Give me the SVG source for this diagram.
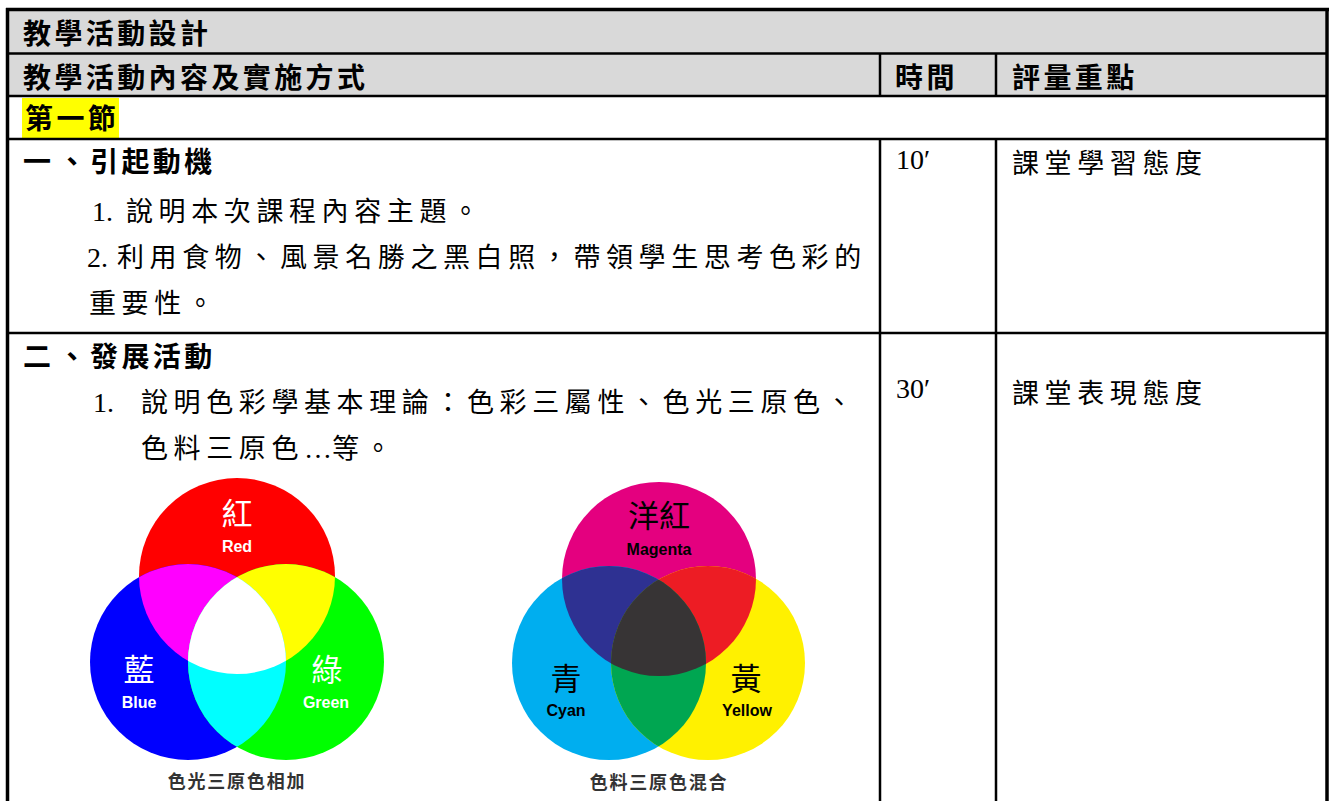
<svg xmlns="http://www.w3.org/2000/svg" width="1336" height="801" viewBox="0 0 1336 801">
<style>
.hd{font-family:"Noto Sans CJK TC","Noto Sans CJK SC",sans-serif;font-weight:700;font-size:28px;letter-spacing:3.4px;fill:#000}
.bd{font-family:"Noto Sans CJK TC","Noto Sans CJK SC",sans-serif;font-weight:400;font-size:27px;letter-spacing:5.6px;fill:#000}
.num{font-family:"Liberation Serif","Times New Roman",serif;font-size:28px;fill:#000}
.ln{stroke:#000;stroke-width:2.5;fill:none}
.ob{stroke:#000;stroke-width:3.5;fill:none}
.vc{font-family:"Noto Sans CJK TC","Noto Sans CJK SC",sans-serif;font-size:31px;text-anchor:middle}
.ve{font-family:"Liberation Sans",Arial,sans-serif;font-weight:700;font-size:16px;text-anchor:middle}
.cap{font-family:"Noto Sans CJK TC","Noto Sans CJK SC",sans-serif;font-weight:700;font-size:18px;fill:#333;text-anchor:middle;letter-spacing:1.8px}
</style>
<defs>
<circle id="cR" cx="237" cy="576" r="98"/>
<circle id="cB" cx="188" cy="662" r="98"/>
<circle id="cG" cx="286" cy="662" r="98"/>
<circle id="cM" cx="659" cy="579" r="97"/>
<circle id="cC" cx="609" cy="663" r="97"/>
<circle id="cY" cx="708" cy="663" r="97"/>
<clipPath id="kR"><use href="#cR"/></clipPath>
<clipPath id="kB"><use href="#cB"/></clipPath>
<clipPath id="kM"><use href="#cM"/></clipPath>
<clipPath id="kC"><use href="#cC"/></clipPath>
</defs>

<g id="table">
<rect x="9" y="11" width="1316" height="85" fill="#d9d9d9"/>
<rect x="22" y="98" width="97" height="40" fill="#ffff00"/>
<line class="ob" x1="6" y1="9.5" x2="1329" y2="9.5"/>
<line class="ob" x1="7.5" y1="8" x2="7.5" y2="801"/>
<line class="ob" x1="1327" y1="8" x2="1327" y2="801"/>
<line class="ln" x1="7" y1="53.5" x2="1327" y2="53.5"/>
<line class="ln" x1="7" y1="96" x2="1327" y2="96"/>
<line class="ln" x1="7" y1="139" x2="1327" y2="139"/>
<line class="ln" x1="7" y1="333" x2="1327" y2="333"/>
<line class="ln" x1="880" y1="53" x2="880" y2="97"/>
<line class="ln" x1="996" y1="53" x2="996" y2="97"/>
<line class="ln" x1="880" y1="139" x2="880" y2="801"/>
<line class="ln" x1="996" y1="139" x2="996" y2="801"/>
</g>

<g id="header">
<text class="hd" x="23" y="44">教學活動設計</text>
<text class="hd" x="23" y="88">教學活動內容及實施方式</text>
<text class="hd" x="895" y="88">時間</text>
<text class="hd" x="1012" y="88">評量重點</text>
<text class="hd" x="25" y="129">第一節</text>
</g>

<g id="section1">
<text class="hd" x="23" y="172">一<tspan x="58">、</tspan><tspan x="90">引起動機</tspan></text>
<text class="num" x="92" y="221">1.</text>
<text class="bd" x="126" y="221">說明本次課程內容主題。</text>
<text class="num" x="87" y="267">2.</text>
<text class="bd" x="117" y="267">利用食物、風景名勝之黑白照，帶領學生思考色彩的</text>
<text class="bd" x="89" y="313">重要性。</text>
<text class="num" x="896" y="169">10′</text>
<text class="bd" x="1012" y="173">課堂學習態度</text>
</g>

<g id="section2">
<text class="hd" x="23" y="367">二<tspan x="58">、</tspan><tspan x="90">發展活動</tspan></text>
<text class="num" x="93" y="412">1.</text>
<text class="bd" x="141" y="412">說明色彩學基本理論：色彩三屬性、色光三原色、</text>
<text class="bd" x="141" y="458">色料三原色<tspan class="num" style="letter-spacing:0">…</tspan>等。</text>
<text class="num" x="896" y="398">30′</text>
<text class="bd" x="1012" y="403">課堂表現態度</text>
</g>

<g id="rgb">
<use href="#cR" fill="#ff0000"/>
<use href="#cB" fill="#0000ff"/>
<use href="#cG" fill="#00ff00"/>
<g clip-path="url(#kR)">
<use href="#cB" fill="#ff00ff"/>
<use href="#cG" fill="#ffff00"/>
</g>
<g clip-path="url(#kB)">
<use href="#cG" fill="#00ffff"/>
<g clip-path="url(#kR)"><use href="#cG" fill="#ffffff"/></g>
</g>
<text class="vc" x="237" y="525" fill="#fff">紅</text>
<text class="ve" x="237" y="552" fill="#fff">Red</text>
<text class="vc" x="139" y="681" fill="#fff">藍</text>
<text class="ve" x="139" y="708" fill="#fff">Blue</text>
<text class="vc" x="327" y="681" fill="#fff">綠</text>
<text class="ve" x="326" y="708" fill="#fff">Green</text>
<text class="cap" x="237" y="788">色光三原色相加</text>
</g>

<g id="cmy">
<use href="#cM" fill="#e4007f"/>
<use href="#cC" fill="#00aeef"/>
<use href="#cY" fill="#fff100"/>
<g clip-path="url(#kM)">
<use href="#cC" fill="#2e3192"/>
<use href="#cY" fill="#ed1c24"/>
</g>
<g clip-path="url(#kC)">
<use href="#cY" fill="#00a651"/>
<g clip-path="url(#kM)"><use href="#cY" fill="#373435"/></g>
</g>
<text class="vc" x="659" y="527" fill="#000">洋紅</text>
<text class="ve" x="659" y="555" fill="#000">Magenta</text>
<text class="vc" x="566" y="690" fill="#000">青</text>
<text class="ve" x="566" y="716" fill="#000">Cyan</text>
<text class="vc" x="746" y="690" fill="#000">黃</text>
<text class="ve" x="747" y="716" fill="#000">Yellow</text>
<text class="cap" x="659" y="789">色料三原色混合</text>
</g>
</svg>
